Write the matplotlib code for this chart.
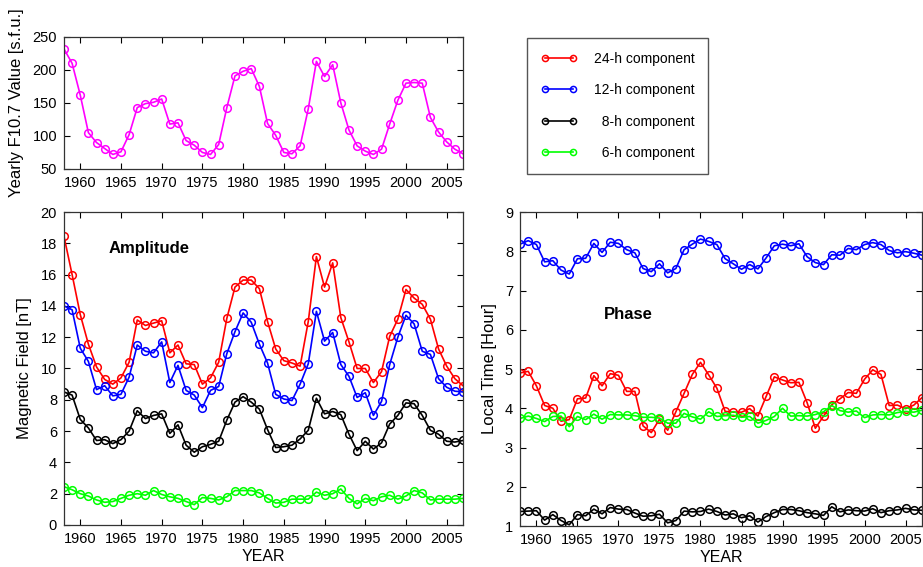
import matplotlib
matplotlib.use('Agg')
import matplotlib.pyplot as plt

plt.rcParams['font.family'] = ['Liberation Sans', 'DejaVu Sans']
plt.rcParams['font.size'] = 10.5

years = list(range(1958, 2008))

f107 = [232, 210, 162, 105, 90, 81, 72, 76, 102, 143,
        149, 151, 156, 118, 120, 93, 86, 75, 72, 87,
        143, 191, 198, 202, 175, 119, 101, 75, 73, 85,
        141, 213, 190, 208, 150, 109, 85, 77, 72, 80,
        118, 154, 180, 181, 180, 128, 106, 91, 80, 73]

# amplitude [nT]
amp24 = [18.45, 16.0, 13.45, 11.55, 10.1, 9.3, 9.0, 9.4, 10.4, 13.1,
         12.75, 12.9, 13.05, 11.0, 11.5, 10.3, 10.25, 9.0, 9.4, 10.4,
         13.2, 15.2, 15.65, 15.65, 15.1, 13.0, 11.25, 10.5, 10.35, 10.15,
         13.0, 17.15, 15.2, 16.75, 13.25, 11.7, 10.0, 10.0, 9.1, 9.8,
         12.05, 13.15, 15.05, 14.5, 14.1, 13.15, 11.25, 10.15, 9.35, 8.9]
amp12 = [14.0, 13.75, 11.3, 10.45, 8.65, 8.9, 8.25, 8.35, 9.45, 11.5,
         11.1, 11.0, 11.7, 9.1, 10.2, 8.6, 8.3, 7.5, 8.6, 8.85,
         10.95, 12.35, 13.55, 12.95, 11.55, 10.35, 8.35, 8.05, 7.95, 9.0,
         10.3, 13.65, 11.75, 12.3, 10.25, 9.5, 8.15, 8.45, 7.0, 7.9,
         10.25, 12.0, 13.4, 12.85, 11.1, 10.9, 9.35, 8.8, 8.55, 8.5]
amp8 = [8.5, 8.3, 6.75, 6.2, 5.4, 5.45, 5.2, 5.45, 6.0, 7.3,
        6.8, 7.0, 7.1, 5.85, 6.4, 5.1, 4.65, 5.0, 5.15, 5.35,
        6.7, 7.85, 8.2, 7.85, 7.4, 6.1, 4.95, 5.0, 5.1, 5.5,
        6.05, 8.1, 7.1, 7.25, 7.05, 5.8, 4.75, 5.35, 4.85, 5.25,
        6.45, 7.0, 7.8, 7.75, 7.0, 6.05, 5.8, 5.35, 5.3, 5.4]
amp6 = [2.45, 2.25, 2.0, 1.85, 1.6, 1.45, 1.5, 1.7, 1.9, 2.0,
        1.9, 2.2, 1.95, 1.8, 1.7, 1.5, 1.3, 1.75, 1.7, 1.6,
        1.8, 2.2, 2.2, 2.2, 2.05, 1.7, 1.4, 1.45, 1.65, 1.65,
        1.65, 2.1, 1.9, 2.0, 2.3, 1.7, 1.35, 1.7, 1.55, 1.8,
        1.9, 1.65, 1.85, 2.2, 2.05, 1.6, 1.65, 1.65, 1.65, 1.7]

# phase [local time, hour]
ph24 = [4.9, 4.94, 4.57, 4.07, 4.0, 3.67, 3.71, 4.24, 4.26, 4.83,
        4.57, 4.88, 4.84, 4.43, 4.43, 3.55, 3.38, 3.72, 3.44, 3.91,
        4.38, 4.86, 5.17, 4.85, 4.51, 3.92, 3.9, 3.9, 3.99, 3.8,
        4.3, 4.8, 4.72, 4.65, 4.66, 4.14, 3.49, 3.8, 4.09, 4.24,
        4.4, 4.38, 4.74, 4.98, 4.86, 4.07, 4.08, 3.99, 4.08, 4.27]
ph12 = [8.18, 8.27, 8.17, 7.73, 7.76, 7.52, 7.42, 7.81, 7.82, 8.2,
        7.97, 8.23, 8.2, 8.04, 7.96, 7.56, 7.48, 7.68, 7.45, 7.56,
        8.04, 8.18, 8.31, 8.25, 8.17, 7.81, 7.68, 7.54, 7.66, 7.55,
        7.83, 8.14, 8.18, 8.14, 8.19, 7.86, 7.71, 7.66, 7.91, 7.9,
        8.07, 8.04, 8.17, 8.22, 8.17, 8.02, 7.96, 7.99, 7.95, 7.9]
ph8 = [1.37, 1.38, 1.39, 1.15, 1.29, 1.14, 1.03, 1.29, 1.26, 1.43,
       1.31, 1.47, 1.43, 1.42, 1.33, 1.25, 1.26, 1.3, 1.08, 1.14,
       1.38, 1.36, 1.37, 1.43, 1.37, 1.28, 1.31, 1.21, 1.26, 1.1,
       1.24, 1.34, 1.42, 1.42, 1.39, 1.34, 1.31, 1.27, 1.49, 1.36,
       1.41, 1.39, 1.38, 1.44, 1.34, 1.39, 1.41, 1.45, 1.41, 1.4]
ph6 = [3.74, 3.8, 3.74, 3.66, 3.79, 3.8, 3.53, 3.79, 3.71, 3.85,
       3.72, 3.84, 3.83, 3.83, 3.81, 3.77, 3.77, 3.75, 3.62, 3.62,
       3.87, 3.78, 3.72, 3.91, 3.79, 3.81, 3.82, 3.77, 3.79, 3.62,
       3.69, 3.79, 4.0, 3.8, 3.81, 3.8, 3.84, 3.91, 4.07, 3.94,
       3.9, 3.93, 3.76, 3.83, 3.84, 3.83, 3.89, 3.92, 3.9, 3.95]

labels = ['24-h component', '12-h component', '  8-h component', '  6-h component']
colors = ['#ff0000', '#0000ff', '#000000', '#00ff00']


def style_axis(ax, ylim, yticks):
    '''MATLAB-like box axes'''
    ax.set_xlim(1958, 2007)
    ax.set_xticks(range(1960, 2006, 5))
    ax.set_ylim(*ylim)
    ax.set_yticks(yticks)
    ax.tick_params(direction='in', top=True, right=True, length=4,
                   width=0.8, labelsize=10.5, pad=5)
    for s in ax.spines.values():
        s.set_linewidth(0.9)
        s.set_color('#333333')


def plot_series(ax, series):
    for y, c, lab in zip(series, colors, labels):
        ax.plot(years, y, '-o', color=c, mfc='none', mec=c, ms=5.5,
                mew=1.1, lw=1.2, label=lab)


def main():
    fig = plt.figure(figsize=(9.23, 5.67), dpi=100)

    ax1 = fig.add_axes([0.0693, 0.702, 0.4323, 0.2328])
    ax1.plot(years, f107, '-o', color='#ff00ff', mfc='none', mec='#ff00ff',
             ms=5.5, mew=1.1, lw=1.2)
    style_axis(ax1, (50, 250), range(50, 251, 50))
    ax1.set_ylabel('Yearly F10.7 Value [s.f.u.]', fontsize=12, labelpad=6)

    ax2 = fig.add_axes([0.0693, 0.0741, 0.4323, 0.552])
    plot_series(ax2, [amp24, amp12, amp8, amp6])
    style_axis(ax2, (0, 20), range(0, 21, 2))
    ax2.set_xlabel('YEAR', fontsize=11.5, labelpad=2.5)
    ax2.set_ylabel('Magnetic Field [nT]', fontsize=12, labelpad=6)
    ax2.text(0.113, 0.882, 'Amplitude', transform=ax2.transAxes,
             fontsize=12, fontweight='bold', va='center')

    ax3 = fig.add_axes([0.5634, 0.0723, 0.4355, 0.5538])
    plot_series(ax3, [ph24, ph12, ph8, ph6])
    style_axis(ax3, (1, 9), range(1, 10))
    ax3.set_xlabel('YEAR', fontsize=11.5, labelpad=2.5)
    ax3.set_ylabel('Local Time [Hour]', fontsize=12, labelpad=6)
    ax3.text(0.209, 0.675, 'Phase', transform=ax3.transAxes,
             fontsize=12, fontweight='bold', va='center')

    handles, labs = ax2.get_legend_handles_labels()
    leg = fig.legend(handles, labs, loc='upper left',
                     bbox_to_anchor=(0.571, 0.933), numpoints=2,
                     markerscale=0.8, handlelength=2.6, handletextpad=1.2,
                     labelspacing=1.25, borderpad=1.0, borderaxespad=0,
                     fontsize=10, fancybox=False, framealpha=1)
    leg.get_frame().set_edgecolor('#555555')
    leg.get_frame().set_linewidth(1.0)

    fig.savefig('out.png', dpi=100)


if __name__ == '__main__':
    main()
